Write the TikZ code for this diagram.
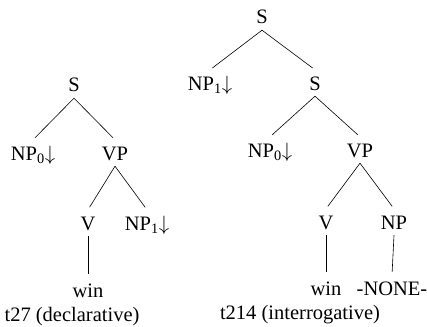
\documentclass[tikz,border=0pt]{standalone}
\usepackage{fontspec}
\setmainfont{Liberation Serif}
\begin{document}
\begin{tikzpicture}[x=1pt,y=-1pt,
  lbl/.style={inner xsep=0pt, inner ysep=6pt, text height=14pt, text depth=0pt, font=\fontsize{20.5}{25}\selectfont},
  captext/.style={inner sep=0pt, font=\fontsize{20.5}{25}\selectfont},
  br/.style={line width=0.6pt, shorten >=3pt}]
\useasboundingbox (0,0) rectangle (427,326);
% left tree
\node[lbl] (s1) at (74,85) {S};
\node[lbl] (np0a) at (33,153) {NP\textsubscript{0}$\downarrow$};
\node[lbl] (vpa) at (115,153) {VP};
\node[lbl] (va) at (88,223) {V};
\node[lbl] (np1a) at (147,223) {NP\textsubscript{1}$\downarrow$};
\node[lbl] (wina) at (88,290) {win};
\node[captext] (cap1) at (72,317) {t27 (declarative)};
\draw[br] (s1.south) -- (np0a.north);
\draw[br] (s1.south) -- (vpa.north);
\draw[br] (vpa.south) -- (va.north);
\draw[br] (vpa.south) -- (np1a.north);
\draw[br] (va.south) -- (wina.north);
% right tree
\node[lbl] (s2) at (262,17) {S};
\node[lbl] (np1b) at (210,83) {NP\textsubscript{1}$\downarrow$};
\node[lbl] (s3) at (315,83) {S};
\node[lbl] (np0b) at (270,150) {NP\textsubscript{0}$\downarrow$};
\node[lbl] (vpb) at (360,150) {VP};
\node[lbl] (vb) at (326,222) {V};
\node[lbl] (npb) at (394,222) {NP};
\node[lbl] (winb) at (326,288) {win};
\node[lbl] (none) at (392,288) {-NONE-};
\node[captext] (cap2) at (300,315) {t214 (interrogative)};
\draw[br] (s2.south) -- (np1b.north);
\draw[br] (s2.south) -- (s3.north);
\draw[br] (s3.south) -- (np0b.north);
\draw[br] (s3.south) -- (vpb.north);
\draw[br] (vpb.south) -- (vb.north);
\draw[br] (vpb.south) -- (npb.north);
\draw[br] (vb.south) -- (winb.north);
\draw[br] (npb.south) -- (none.north);
\end{tikzpicture}
\end{document}
